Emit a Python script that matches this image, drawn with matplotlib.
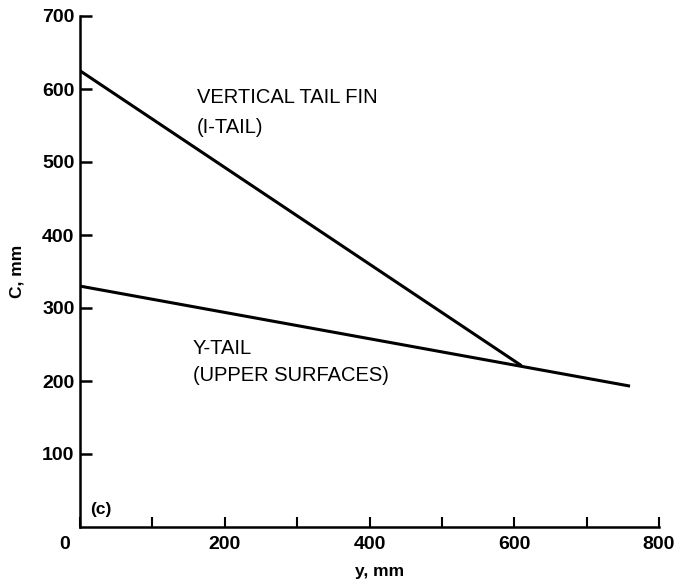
import matplotlib
matplotlib.use('Agg')
import matplotlib.pyplot as plt
import matplotlib.transforms as mtransforms

plt.rcParams['font.family'] = ['Liberation Sans', 'DejaVu Sans']

# chord C (mm) against spanwise station y (mm)
fin_y = [0, 610]
fin_c = [625, 221]
ytail_y = [0, 760]
ytail_c = [330, 193]

x_ticks = [0, 100, 200, 300, 400, 500, 600, 700, 800]
x_labels = ['0', '', '200', '', '400', '', '600', '', '800']
y_ticks = [100, 200, 300, 400, 500, 600, 700]


def main():
    fig = plt.figure(figsize=(6.75, 5.86), dpi=100)
    ax = fig.add_axes([80 / 675, 1 - 527 / 586, 579 / 675, 511 / 586])

    ax.plot(fin_y, fin_c, 'k-', lw=2.2, solid_capstyle='butt')
    ax.plot(ytail_y, ytail_c, 'k-', lw=2.2, solid_capstyle='butt')

    ax.set_xlim(0, 800)
    ax.set_ylim(0, 700)
    for side in ['top', 'right']:
        ax.spines[side].set_visible(False)
    for side in ['left', 'bottom']:
        ax.spines[side].set_linewidth(1.8)

    ax.set_xticks(x_ticks)
    ax.set_xticklabels(x_labels, fontsize=14, fontweight='bold')
    ax.set_yticks(y_ticks)
    ax.set_yticklabels([str(v) for v in y_ticks], fontsize=14, fontweight='bold')
    ax.tick_params(axis='y', direction='in', length=8.6, width=1.8, pad=4)
    ax.tick_params(axis='x', direction='in', length=7, width=1.5, pad=6.5)

    # the "0" sits a little left of the corner
    lab0 = ax.get_xticklabels()[0]
    lab0.set_transform(lab0.get_transform()
                       + mtransforms.ScaledTranslation(-15 / 100, 0, fig.dpi_scale_trans))

    ax.set_xlabel('y, mm', fontsize=12.5, fontweight='bold')
    ax.set_ylabel('C, mm', fontsize=12.5, fontweight='bold')
    ax.xaxis.set_label_coords(0.517, -0.072)
    ax.yaxis.set_label_coords(-0.095, 0.5)

    ax.text(162, 589, 'VERTICAL TAIL FIN', fontsize=14.5, ha='left', va='center')
    ax.text(162, 547, '(I-TAIL)', fontsize=14.5, ha='left', va='center')
    ax.text(156, 245, 'Y-TAIL', fontsize=14.5, ha='left', va='center')
    ax.text(156, 208, '(UPPER SURFACES)', fontsize=14.5, ha='left', va='center')
    ax.text(14, 24, '(c)', fontsize=12.5, fontweight='bold', ha='left', va='center')

    fig.savefig('out.png', dpi=100)


if __name__ == '__main__':
    main()
